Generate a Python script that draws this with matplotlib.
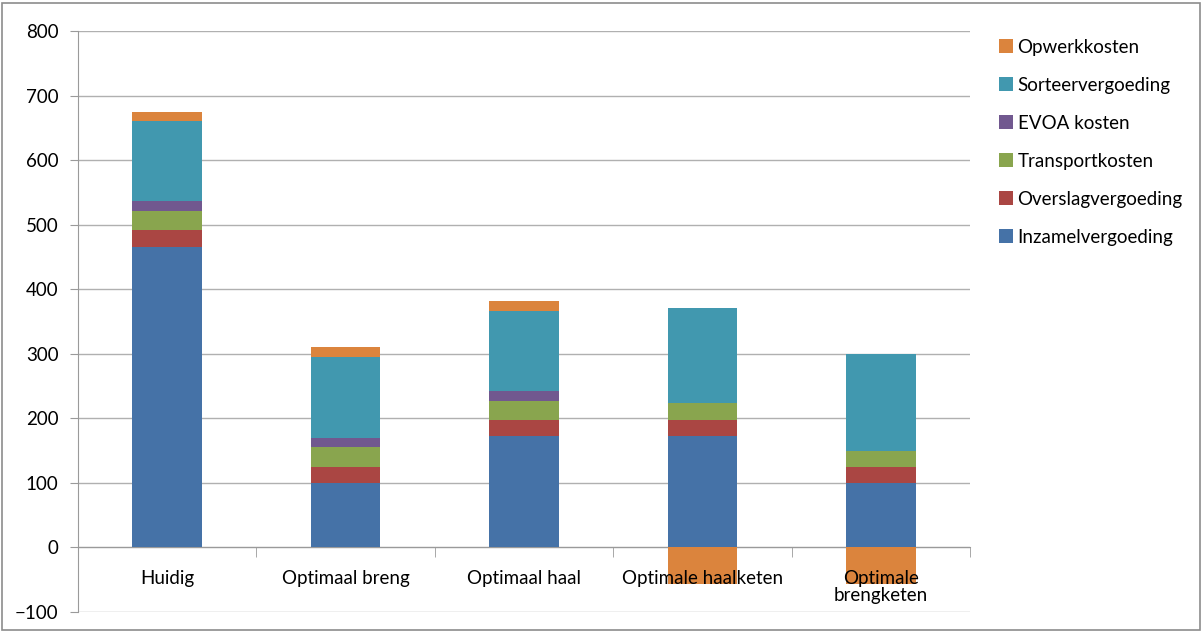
import matplotlib
matplotlib.use("Agg")
import matplotlib.pyplot as plt
import matplotlib.patches as mpatches
import numpy as np

plt.rcParams['font.family'] = ['Lato', 'DejaVu Sans']

categories = ['Huidig', 'Optimaal breng', 'Optimaal haal', 'Optimale haalketen', 'Optimale\nbrengketen']
series = ['Inzamelvergoeding', 'Overslagvergoeding', 'Transportkosten', 'EVOA kosten', 'Sorteervergoeding', 'Opwerkkosten']
inzamel = [466, 100, 172, 172, 100]
overslag = [25, 25, 25, 25, 25]
transport = [30, 30, 30, 26, 25]
evoa = [16, 15, 15, 0, 0]
sorteer = [124, 125, 125, 148, 150]
opwerk = [14, 15, 15, -57, -57]
colors = ['#4572A7', '#AA4643', '#89A54E', '#71588F', '#4198AF', '#DB843D']

values = [inzamel, overslag, transport, evoa, sorteer, opwerk]
yticks = list(range(-100, 801, 100))

fig = plt.figure(figsize=(12.03, 6.32), dpi=100)
ax = fig.add_axes([78/1203, 20/632, (970-78)/1203, (612-31)/632])

x = np.arange(len(categories))
pos = np.zeros(len(categories))
neg = np.zeros(len(categories))
handles = []
for name, vals, c in zip(series, values, colors):
    vals = np.array(vals, dtype=float)
    bottom = np.where(vals >= 0, pos, neg)
    b = ax.bar(x, vals, width=0.39, bottom=bottom, color=c, label=name, zorder=1)
    pos = pos + np.where(vals >= 0, vals, 0)
    neg = neg + np.where(vals < 0, vals, 0)
    handles.append(b)

# gridlines drawn by hand so the tick labels stay above the bars
for t in yticks:
    ax.axhline(t, color='#b0b0b0', linewidth=1, zorder=0)

ax.set_ylim(-100, 800)
ax.set_xlim(-0.5, len(categories) - 0.5)
ax.set_yticks(yticks)

ax.spines['top'].set_visible(False)
ax.spines['right'].set_visible(False)
ax.spines['left'].set_color('#9a9a9a')
ax.spines['bottom'].set_position(('data', 0))
ax.spines['bottom'].set_color('#9a9a9a')
ax.spines['bottom'].set_zorder(0.5)

ax.set_xticks(x)
ax.set_xticklabels(categories, fontsize=13.5, linespacing=1.05)
ax.set_xticks(np.arange(0.5, len(categories), 1), minor=True)
ax.tick_params(axis='x', which='major', length=0, pad=16)
ax.tick_params(axis='x', which='minor', length=7, color='#9a9a9a', direction='out')
ax.tick_params(axis='y', length=6, color='#9a9a9a', labelsize=13.5, pad=8)

leg = fig.legend(handles[::-1], series[::-1], loc='upper left',
                 bbox_to_anchor=(982/1203, 610/632), frameon=False,
                 fontsize=13.5, handlelength=0.75, handleheight=0.75,
                 handletextpad=0.25, labelspacing=1.12)

fig.patches.append(mpatches.Rectangle((2/1203, 2/632), 1198/1203, 627/632,
                                      transform=fig.transFigure, fill=False,
                                      edgecolor='#8c8c8c', linewidth=1.2))

fig.savefig('out.png', dpi=100)
